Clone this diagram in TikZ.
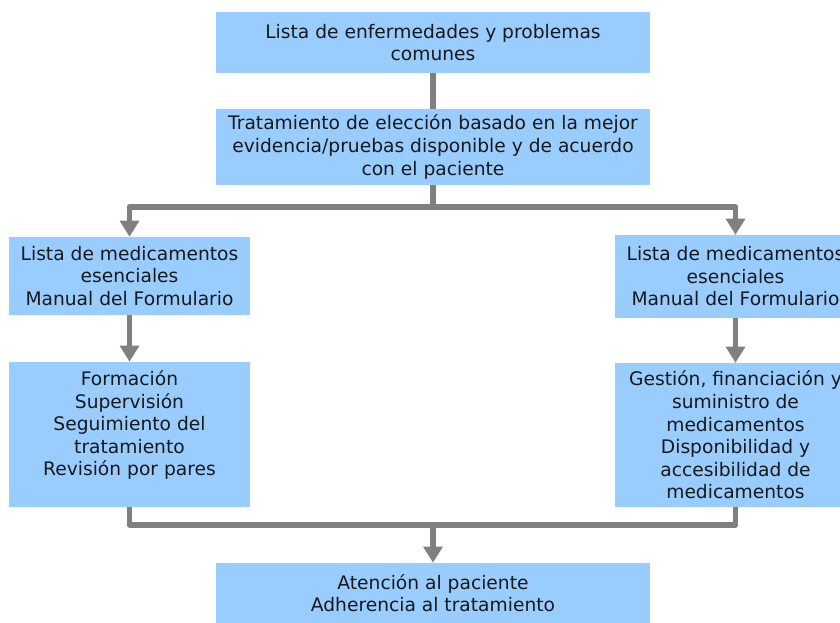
\documentclass[tikz,border=0pt]{standalone}
\usepackage{fontspec}
\setmainfont{DejaVu Sans}
\usetikzlibrary{arrows.meta}
\definecolor{boxblue}{RGB}{153,204,255}
\definecolor{conngray}{RGB}{128,128,128}
\tikzset{
  box/.style={fill=boxblue, draw=none, align=center, inner sep=0pt,
    font=\fontsize{14pt}{16.9pt}\selectfont, text=black!90},
  conn/.style={draw=conngray, line width=4.2pt, line join=round},
  arr/.style={conn, -{Triangle[width=14pt,length=12pt]}, shorten >=0pt},
}
\begin{document}
\begin{tikzpicture}[x=0.75pt,y=-0.75pt]
\useasboundingbox (0,0) rectangle (840,623);
\clip (0,0) rectangle (840,623);
\node[box, minimum width=325.5pt, minimum height=45.75pt] (b1) at (433,42.5)
  {Lista de enfermedades y problemas\\comunes};
\node[box, minimum width=325.5pt, minimum height=57pt] (b2) at (433,147)
  {Tratamiento de elección basado en la mejor\\evidencia/pruebas disponible y de acuerdo\\con el paciente};
\node[box, minimum width=180.75pt, minimum height=58.5pt] (b3l) at (129.5,276)
  {Lista de medicamentos\\esenciales\\Manual del Formulario};
\node[box, minimum width=180.75pt, minimum height=62.25pt] (b3r) at (735.5,276.5)
  {Lista de medicamentos\\esenciales\\Manual del Formulario};
\node[box, minimum width=180.75pt, minimum height=108.75pt] (b4l) at (129.5,434.5)
  {Formación\\Supervisión\\Seguimiento del\\tratamiento\\Revisión por pares\\\mbox{}};
\node[box, minimum width=180.75pt, minimum height=108pt] (b4r) at (735.5,435)
  {Gestión, financiación y\\suministro de\\medicamentos\\Disponibilidad y\\accesibilidad de\\medicamentos};
\node[box, minimum width=325.5pt, minimum height=45pt] (b5) at (433,593)
  {Atención al paciente\\Adherencia al tratamiento};
\coordinate (j1) at (433,207);
\coordinate (j2) at (433,525);
\draw[conn] (b1.south) -- (b2.north);
\draw[conn] (b2.south) -- (j1);
\draw[arr] (j1) -| (b3l.north);
\draw[arr] (j1) -| (b3r.north);
\draw[arr] (b3l.south) -- (b4l.north);
\draw[arr] (b3r.south) -- (b4r.north);
\draw[conn] (b4l.south) |- (j2);
\draw[conn] (b4r.south) |- (j2);
\draw[arr] (j2) -- (b5.north);
\end{tikzpicture}
\end{document}
